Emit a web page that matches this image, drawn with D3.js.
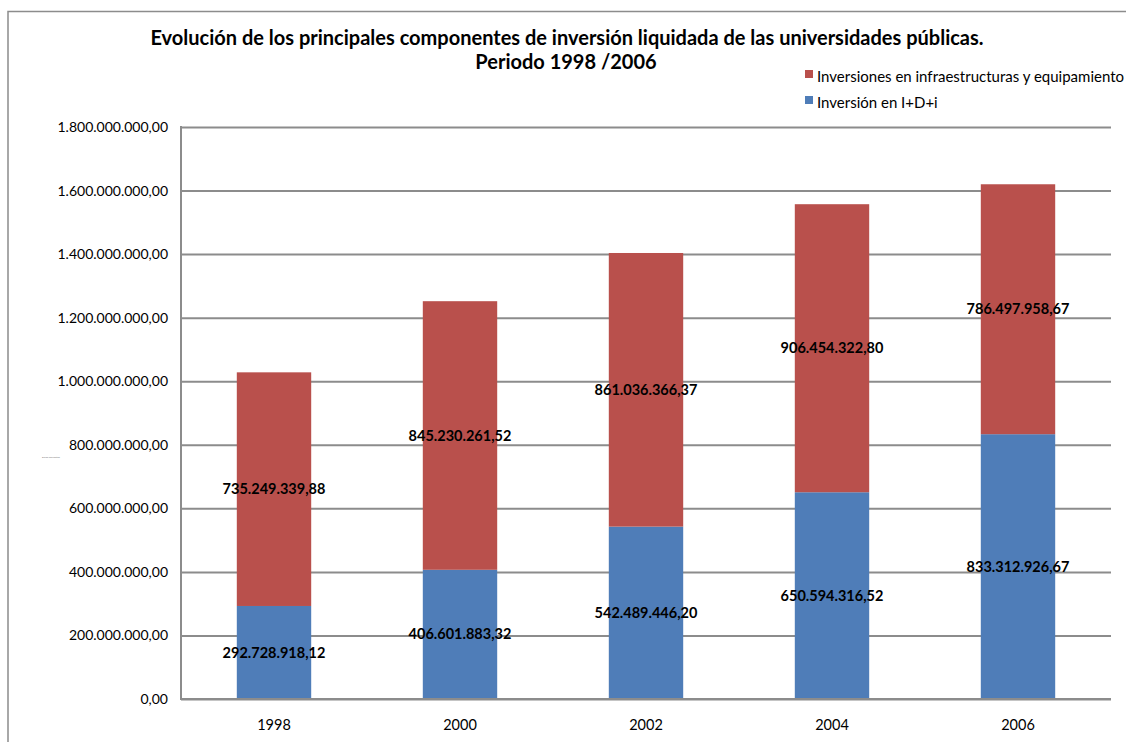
<!DOCTYPE html>
<html>
<head>
<meta charset="utf-8">
<script src="https://cdn.jsdelivr.net/npm/d3@7"></script>
<style>
  body { margin: 0; background: #fff; }
  svg { display: block; }
  text { font-family: Lato, "Open Sans", sans-serif; }
</style>
</head>
<body>
<script>
var years = ['1998', '2000', '2002', '2004', '2006']
var idi = [292728918.12, 406601883.32, 542489446.20, 650594316.52, 833312926.67]
var infra = [735249339.88, 845230261.52, 861036366.37, 906454322.80, 786497958.67]
var seriesNames = ['Inversión en I+D+i', 'Inversiones en infraestructuras y equipamiento']
var yTicks = [0, 200e6, 400e6, 600e6, 800e6, 1000e6, 1200e6, 1400e6, 1600e6, 1800e6]

var W = 1126, H = 742
var m = { left: 181, right: 1111, top: 127, bottom: 699 }

var fmt = d3.formatLocale({ decimal: ',', thousands: '.', grouping: [3], currency: ['', ''] }).format(',.2f')

var svg = d3.select('body').append('svg')
  .attr('width', W).attr('height', H)

// outer frame (left + top only visible)
svg.append('path')
  .attr('d', 'M8,742V11.5H1126')
  .attr('fill', 'none').attr('stroke', '#8c8c8c').attr('stroke-width', 1.5)

var x = d3.scaleBand().domain(years).range([m.left, m.right]).paddingInner(0.6).paddingOuter(0.3)
var y = d3.scaleLinear().domain([0, 1800e6]).range([m.bottom, m.top])

// gridlines
var yAxis = d3.axisLeft(y).tickValues(yTicks).tickSize(-(m.right - m.left)).tickPadding(13)
  .tickFormat(function(d) { return fmt(d) })
var gy = svg.append('g').attr('transform', 'translate(' + m.left + ',0)').call(yAxis)
gy.select('.domain').remove()
gy.selectAll('line').attr('stroke', '#8c8c8c').attr('stroke-width', 2)
gy.selectAll('text').attr('font-size', 14).attr('fill', '#000')
  .attr('font-family', 'Lato, "Open Sans", sans-serif')

// left axis line
svg.append('line')
  .attr('x1', m.left).attr('x2', m.left).attr('y1', m.top - 1).attr('y2', m.bottom + 1)
  .attr('stroke', '#8c8c8c').attr('stroke-width', 2)

var rows = years.map(function(yr, i) { return { year: yr, idi: idi[i], infra: infra[i] } })
var stack = d3.stack().keys(['idi', 'infra'])(rows)
var colors = ['#4f7db8', '#b9504c']

var layers = svg.selectAll('g.layer').data(stack).enter().append('g')
  .attr('class', 'layer').attr('fill', function(d, i) { return colors[i] })

layers.selectAll('rect').data(function(d) { return d }).enter().append('rect')
  .attr('x', function(d) { return x(d.data.year) })
  .attr('width', x.bandwidth())
  .attr('y', function(d) { return y(d[1]) })
  .attr('height', function(d) { return y(d[0]) - y(d[1]) })

// bottom axis line on top of bars
svg.append('line')
  .attr('x1', m.left - 1).attr('x2', m.right).attr('y1', m.bottom).attr('y2', m.bottom)
  .attr('stroke', '#8c8c8c').attr('stroke-width', 2)

// value labels
layers.selectAll('text.val').data(function(d) { return d }).enter().append('text')
  .attr('class', 'val')
  .attr('x', function(d) { return x(d.data.year) + x.bandwidth() / 2 })
  .attr('y', function(d) { return (y(d[0]) + y(d[1])) / 2 })
  .attr('dy', '0.35em')
  .attr('text-anchor', 'middle')
  .attr('font-size', 14.5).attr('font-weight', 'bold').attr('fill', '#000')
  .text(function(d) { return fmt(d[1] - d[0]) })

// category labels
svg.selectAll('text.cat').data(years).enter().append('text')
  .attr('class', 'cat')
  .attr('x', function(d) { return x(d) + x.bandwidth() / 2 })
  .attr('y', 730)
  .attr('text-anchor', 'middle').attr('font-size', 14.5)
  .text(function(d) { return d })

// title
svg.append('text').attr('x', 567).attr('y', 45).attr('text-anchor', 'middle')
  .attr('font-size', 20).attr('font-weight', 'bold')
  .text('Evolución de los principales componentes de inversión liquidada de las universidades públicas.')
svg.append('text').attr('x', 566).attr('y', 69).attr('text-anchor', 'middle')
  .attr('font-size', 20).attr('font-weight', 'bold')
  .text('Periodo 1998 /2006')

// tiny axis caption
svg.append('text').attr('x', 42).attr('y', 458).attr('font-size', 2.5).attr('fill', '#777')
  .text('Euros corrientes')

// legend
var legend = [{ name: seriesNames[1], c: colors[1], yy: 77 }, { name: seriesNames[0], c: colors[0], yy: 103 }]
var lg = svg.selectAll('g.lg').data(legend).enter().append('g').attr('class', 'lg')
lg.append('rect').attr('x', 805).attr('y', function(d) { return d.yy - 7 })
  .attr('width', 8).attr('height', 8).attr('fill', function(d) { return d.c })
lg.append('text').attr('x', 817).attr('y', function(d) { return d.yy + 5 })
  .attr('font-size', 15).text(function(d) { return d.name })
</script>
</body>
</html>
